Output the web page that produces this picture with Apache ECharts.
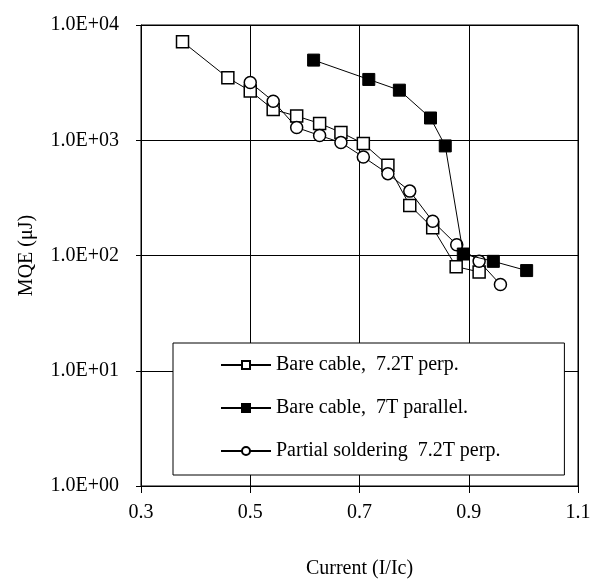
<!DOCTYPE html>
<html style="height: 100%">
<head>
<meta charset="utf-8">
<script src="https://cdn.jsdelivr.net/npm/echarts@6/dist/echarts.min.js"></script>
</head>
<body style="height: 100%; margin: 0; background: #fff">
<div id="main" style="width: 595px; height: 580px"></div>
<script type="text/javascript">
// x = I/Ic, y = MQE (uJ)
var bareX = [0.376, 0.459, 0.500, 0.542, 0.585, 0.627, 0.666, 0.707, 0.752, 0.792, 0.834, 0.877, 0.919];
var bareY = [7160, 3480, 2680, 1850, 1620, 1400, 1170, 935, 607, 272, 174, 80, 72];

var parX = [0.616, 0.717, 0.773, 0.830, 0.857, 0.890, 0.945, 1.006];
var parY = [4960, 3370, 2720, 1560, 893, 103, 89, 74];

var solX = [0.500, 0.542, 0.585, 0.627, 0.666, 0.707, 0.752, 0.792, 0.834, 0.878, 0.919, 0.958];
var solY = [3170, 2180, 1290, 1100, 955, 716, 513, 362, 198, 124, 89, 56];

var seriesNames = ['Bare cable,  7.2T perp.', 'Bare cable,  7T parallel.', 'Partial soldering  7.2T perp.'];

function pairs(xs, ys) {
    return xs.map(function (x, i) { return [x, ys[i]]; });
}

var font = 'Liberation Serif';
var chart = echarts.init(document.getElementById('main'));

var option = {
    animation: false,
    backgroundColor: '#fff',
    textStyle: { fontFamily: font, color: '#000' },
    grid: {
        left: 141, right: 17, top: 25, bottom: 94,
        outerBoundsMode: 'none',
        containLabel: false,
        show: true, borderColor: '#000', borderWidth: 1
    },
    xAxis: {
        type: 'value',
        min: 0.3, max: 1.1, interval: 0.2,
        name: 'Current (I/Ic)',
        nameLocation: 'middle',
        nameGap: 73,
        nameTextStyle: { fontFamily: font, fontSize: 20, color: '#000' },
        axisLine: { lineStyle: { color: '#000', width: 1 } },
        axisTick: { show: true, inside: false, length: 7, lineStyle: { color: '#000' } },
        axisLabel: {
            fontFamily: font, fontSize: 20, color: '#000', margin: 17,
            formatter: function (v) { return v.toFixed(1); }
        },
        splitLine: { show: true, lineStyle: { color: '#000', width: 1 } }
    },
    yAxis: {
        type: 'log',
        logBase: 10,
        min: 1, max: 10000,
        name: 'MQE (μJ)',
        nameLocation: 'middle',
        nameGap: 104,
        nameRotate: 90,
        nameTextStyle: { fontFamily: font, fontSize: 20, color: '#000' },
        axisLine: { lineStyle: { color: '#000', width: 1 } },
        axisTick: { show: true, inside: false, length: 5, lineStyle: { color: '#000' } },
        minorTick: { show: false },
        axisLabel: {
            fontFamily: font, fontSize: 20, color: '#000', margin: 22,
            formatter: function (v) {
                var e = Math.round(Math.log10(v));
                return '1.0E+' + (e < 10 ? '0' : '') + e;
            }
        },
        splitLine: { show: true, lineStyle: { color: '#000', width: 1 } }
    },
    legend: {
        data: seriesNames,
        orient: 'vertical',
        left: 173, top: 343,
        padding: [12, 64, 14, 47],
        itemGap: 23,
        itemWidth: 50,
        itemHeight: 10,
        backgroundColor: '#fff',
        borderColor: '#000',
        borderWidth: 1,
        textStyle: { fontFamily: font, fontSize: 20, color: '#000' }
    },
    series: [
        {
            name: seriesNames[0],
            type: 'line',
            z: 2,
            data: pairs(bareX, bareY),
            symbol: 'rect',
            symbolSize: 12,
            lineStyle: { color: '#000', width: 1 },
            itemStyle: { color: '#fff', borderColor: '#000', borderWidth: 1.5 }
        },
        {
            name: seriesNames[1],
            type: 'line',
            z: 4,
            data: pairs(parX, parY),
            symbol: 'rect',
            symbolSize: 12,
            lineStyle: { color: '#000', width: 1 },
            itemStyle: { color: '#000', borderColor: '#000', borderWidth: 1 }
        },
        {
            name: seriesNames[2],
            type: 'line',
            z: 3,
            data: pairs(solX, solY),
            symbol: 'circle',
            symbolSize: 12,
            lineStyle: { color: '#000', width: 1 },
            itemStyle: { color: '#fff', borderColor: '#000', borderWidth: 1.5 }
        }
    ]
};

chart.setOption(option);
</script>
</body>
</html>
